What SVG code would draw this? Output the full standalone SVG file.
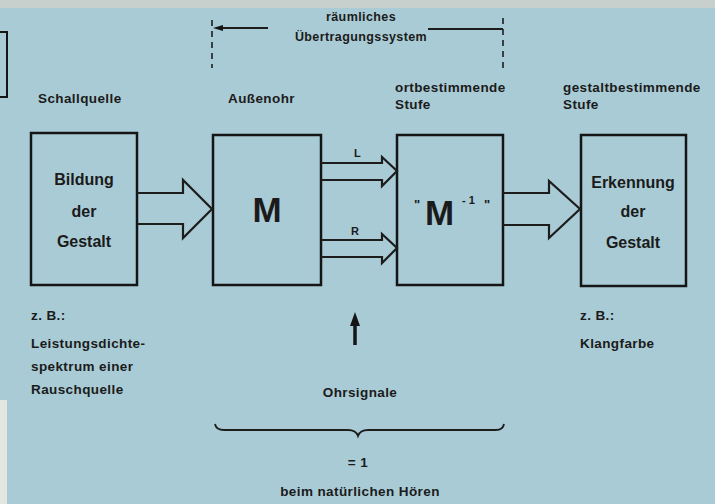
<svg xmlns="http://www.w3.org/2000/svg" width="715" height="504" viewBox="0 0 715 504">
<style>
text{font-family:"Liberation Sans",Arial,sans-serif;font-weight:bold;fill:#1b1b1b}
.lab{font-size:13.5px;letter-spacing:0.4px}
.box{fill:none;stroke:#151515;stroke-width:2.5}
.arr{fill:none;stroke:#1d1d1d;stroke-width:2.2;stroke-linejoin:miter}
.in{font-size:16px;text-anchor:middle}
.head{fill:#151515}
</style>
<rect width="715" height="504" fill="#a9cbd5"/>
<rect width="715" height="8" fill="#c7d0cc"/>
<rect x="0" y="400" width="7" height="104" fill="#e4e7e1"/>
<path d="M0,32 H7 V97 H0" fill="none" stroke="#151515" stroke-width="2"/>

<g id="labels">
<text class="lab" x="38" y="103">Schallquelle</text>
<text class="lab" x="228" y="103">Außenohr</text>
<text class="lab" x="395" y="92">ortbestimmende</text>
<text class="lab" x="395" y="109">Stufe</text>
<text class="lab" x="563" y="92">gestaltbestimmende</text>
<text class="lab" x="563" y="109">Stufe</text>
<text class="lab" x="361" y="21" text-anchor="middle" style="font-size:12.5px">räumliches</text>
<text class="lab" x="361" y="41" text-anchor="middle" style="font-size:12.5px">Übertragungssystem</text>
<text class="lab" x="31" y="320">z. B.:</text>
<text class="lab" x="31" y="348">Leistungsdichte-</text>
<text class="lab" x="31" y="371">spektrum einer</text>
<text class="lab" x="31" y="394">Rauschquelle</text>
<text class="lab" x="580" y="320">z. B.:</text>
<text class="lab" x="580" y="348">Klangfarbe</text>
<text class="lab" x="360" y="397" text-anchor="middle">Ohrsignale</text>
<text class="lab" x="358" y="467" text-anchor="middle">= 1</text>
<text class="lab" x="360" y="496" text-anchor="middle">beim natürlichen Hören</text>
</g>

<g id="node-bildung">
<rect class="box" x="31" y="133" width="106" height="152"/>
<text class="in" x="84" y="185">Bildung</text>
<text class="in" x="84" y="217">der</text>
<text class="in" x="84" y="247">Gestalt</text>
</g>
<g id="node-M">
<rect class="box" x="213" y="135" width="108" height="150"/>
<text x="267" y="222" text-anchor="middle" style="font-size:35px">M</text>
</g>
<g id="node-Minv">
<rect class="box" x="397" y="135" width="106" height="150"/>
<text x="414" y="209" style="font-size:13px">"</text>
<text x="425" y="225" style="font-size:35px">M</text>
<text x="462" y="204" style="font-size:11px">- 1</text>
<text x="484" y="209" style="font-size:13px">"</text>
</g>
<g id="node-erkennung">
<rect class="box" x="581" y="135" width="105" height="151"/>
<text class="in" x="633" y="188">Erkennung</text>
<text class="in" x="633" y="217">der</text>
<text class="in" x="633" y="248">Gestalt</text>
</g>

<g id="connectors">
<path class="arr" d="M137,193 H183 V180 L212,209 L183,238 V224 H137"/>
<path class="arr" d="M503,193 H549 V181 L580,209 L549,238 V225 H503"/>
<path class="arr" d="M321,163 H382 V157 L397,171 L382,186 V180 H321"/>
<path class="arr" d="M321,240 H382 V234 L397,248 L382,263 V257 H321"/>
<text x="354" y="157" style="font-size:11px">L</text>
<text x="351" y="235" style="font-size:11px">R</text>
<line x1="355" y1="345" x2="355" y2="322" stroke="#151515" stroke-width="3.5"/>
<polygon class="head" points="355,312 360,326 350,326"/>
<path d="M212,20 V68 M503,18 V68" stroke="#1d1d1d" stroke-width="1.6" stroke-dasharray="6,5" fill="none"/>
<line x1="222" y1="28" x2="268" y2="28" stroke="#1d1d1d" stroke-width="1.8"/>
<polygon class="head" points="213,28 223,25 223,31"/>
<line x1="428" y1="29" x2="503" y2="29" stroke="#1d1d1d" stroke-width="1.8"/>
<path d="M215,424 Q216,430 224,430 H348 Q356,430 358,436 Q360,430 368,430 H496 Q503,430 504,424" fill="none" stroke="#1d1d1d" stroke-width="1.8"/>
</g>
</svg>
